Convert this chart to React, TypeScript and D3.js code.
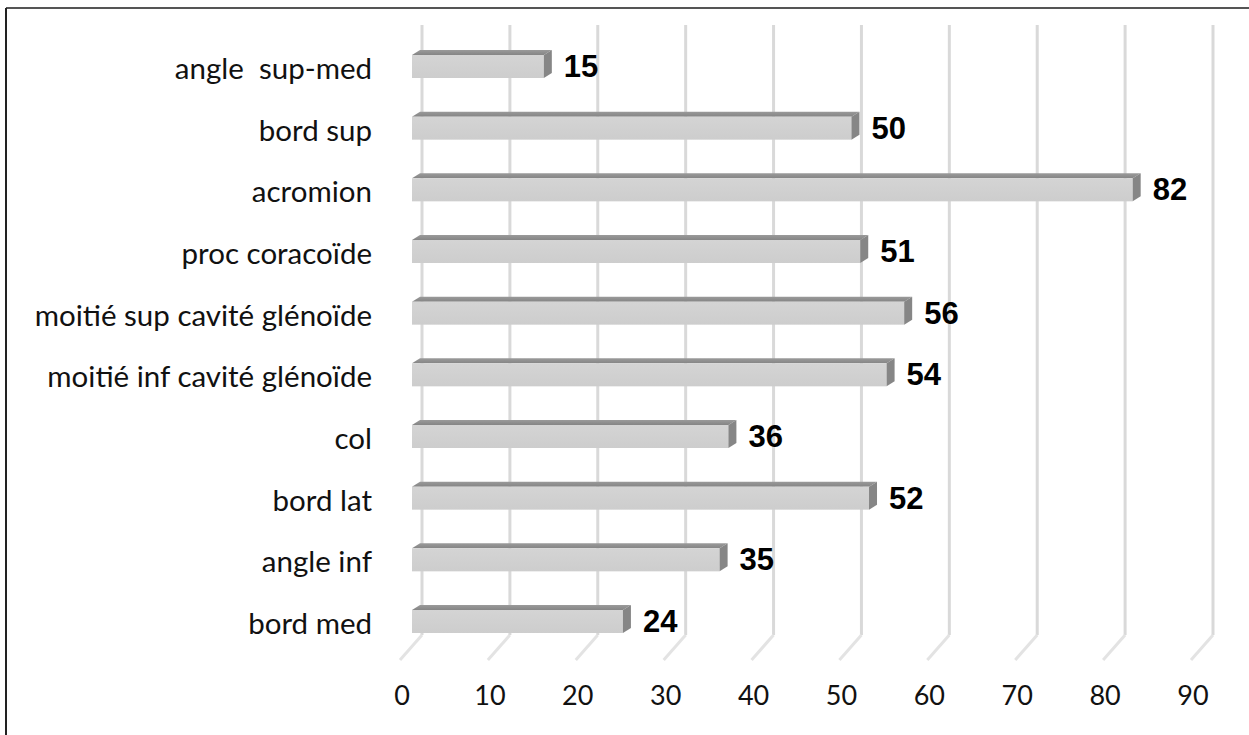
import React from "react";
import * as d3 from "d3";

const categories = [
  "angle  sup-med",
  "bord sup",
  "acromion",
  "proc coracoïde",
  "moitié sup cavité glénoïde",
  "moitié inf cavité glénoïde",
  "col",
  "bord lat",
  "angle inf",
  "bord med",
];
const values = [15, 50, 82, 51, 56, 54, 36, 52, 35, 24];
const tickValues = [0, 10, 20, 30, 40, 50, 60, 70, 80, 90];

const W = 1249;
const H = 735;

export default function App() {
  const x = d3.scaleLinear().domain([0, 90]).range([412, 1203]);
  const y = d3.scalePoint<string>().domain(categories).range([66.5, 621.5]);
  const barH = 23;
  const dx = 8;
  const dy = -5;
  const wallTop = 25;
  const wallBottom = 635;
  const floorFrontY = 660;

  const labelFont = "Lato, 'Open Sans', sans-serif";

  return (
    <svg
      width={W}
      height={H}
      style={{ position: "fixed", left: 0, top: 0, background: "#fff" }}
    >
      <defs>
        <linearGradient id="topFace" x1="0" y1="0" x2="0" y2="1">
          <stop offset="0" stopColor="#9a9a9a" />
          <stop offset="1" stopColor="#858585" />
        </linearGradient>
        <linearGradient id="frontFace" x1="0" y1="0" x2="0" y2="1">
          <stop offset="0" stopColor="#d4d4d4" />
          <stop offset="1" stopColor="#cdcdcd" />
        </linearGradient>
      </defs>
      <rect x={0} y={0} width={W} height={H} fill="#fff" />
      {/* frame */}
      <line x1={6} y1={8} x2={W} y2={8} stroke="#555" strokeWidth={2} />
      <line x1={6} y1={8} x2={6} y2={H} stroke="#222" strokeWidth={2} />

      {/* wall gridlines and floor diagonals */}
      {tickValues.map((t) => (
        <g key={"g" + t}>
          <line
            x1={x(t) + 10}
            y1={wallTop}
            x2={x(t) + 10}
            y2={wallBottom}
            stroke="#d9d9d9"
            strokeWidth={3}
          />
          <line
            x1={x(t) + 10}
            y1={wallBottom}
            x2={x(t) - 12}
            y2={floorFrontY}
            stroke="#e3e3e3"
            strokeWidth={3}
          />
        </g>
      ))}

      {/* bars */}
      {categories.map((c, i) => {
        const v = values[i];
        const x0 = x(0);
        const x1 = x(v);
        const yc = y(c)!;
        const yT = yc - barH / 2;
        const yB = yc + barH / 2;
        return (
          <g key={c}>
            <polygon
              points={`${x0},${yT} ${x0 + dx},${yT + dy} ${x1 + dx},${yT + dy} ${x1},${yT}`}
              fill="url(#topFace)"
            />
            <rect x={x0} y={yT} width={x1 - x0} height={barH} fill="url(#frontFace)" />
            <polygon
              points={`${x1},${yT} ${x1 + dx},${yT + dy} ${x1 + dx},${yB + dy} ${x1},${yB}`}
              fill="#868686"
            />
            <text
              x={x1 + dx + 12}
              y={yc}
              dominantBaseline="central"
              fontFamily="'Liberation Sans', Arial, sans-serif"
              fontWeight="bold"
              fontSize={31}
              fill="#000"
            >
              {v}
            </text>
            <text
              x={372}
              y={yc + 1}
              dominantBaseline="central"
              textAnchor="end"
              fontFamily={labelFont}
              fontSize={29.5}
              fill="#111"
              style={{ whiteSpace: "pre" }}
            >
              {c}
            </text>
          </g>
        );
      })}

      {/* tick labels */}
      {tickValues.map((t) => (
        <text
          key={"t" + t}
          x={x(t) - 10}
          y={705}
          textAnchor="middle"
          fontFamily={labelFont}
          fontSize={27}
          fill="#111"
        >
          {t}
        </text>
      ))}
    </svg>
  );
}
